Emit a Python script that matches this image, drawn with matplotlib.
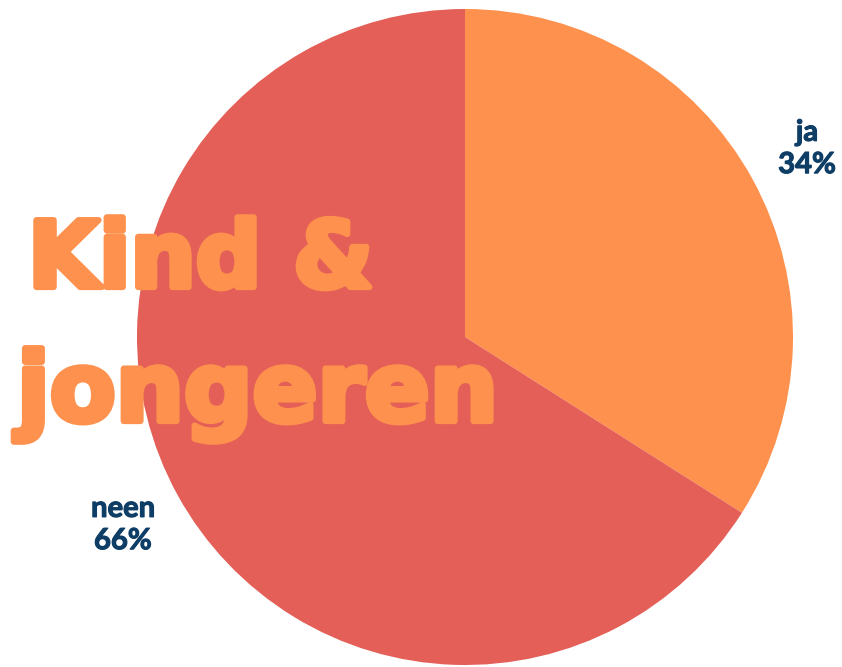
import matplotlib
matplotlib.use("Agg")
import matplotlib.pyplot as plt
import matplotlib.patheffects as pe

CATEGORIES = ['ja', 'neen']
SHARES = [34, 66]
COLORS = ['#FE914D', '#E45F57']
TITLE_LINES = ['Kind &', 'jongeren']


def main():
    fig = plt.figure(figsize=(8.42, 6.67), dpi=100)
    ax = fig.add_axes([0, 0, 1, 1])

    labels = [f"{c}\n{v}%" for c, v in zip(CATEGORIES, SHARES)]
    wedges, texts = ax.pie(SHARES, labels=labels, colors=COLORS, startangle=90,
                           counterclock=False, center=(465, 330), radius=328,
                           labeldistance=1.19, frame=True,
                           textprops=dict(color='#0E3D66', fontsize=21,
                                          fontweight='bold', family='Lato',
                                          linespacing=1.3))
    for t in texts:
        t.set_ha('center')
        t.set_va('center')
        t.set_path_effects([pe.withStroke(linewidth=0.8, foreground='#0E3D66')])
    ax.set_xlim(0, 842)
    ax.set_ylim(0, 667)
    ax.set_aspect('equal')
    ax.axis('off')

    # heavy title, fattened with a stroke of the same colour
    heavy = [pe.withStroke(linewidth=4.5, foreground='#FE914D')]
    fig.text(28 / 842, 1 - 287 / 667, TITLE_LINES[0], color='#FE914D',
             fontsize=66, fontweight='bold', family='DejaVu Sans',
             va='baseline', path_effects=heavy)
    fig.text(17 / 842, 1 - 421 / 667, TITLE_LINES[1], color='#FE914D',
             fontsize=69, fontweight='bold', family='DejaVu Sans',
             va='baseline', path_effects=heavy)

    fig.savefig('out.png', dpi=100)


if __name__ == '__main__':
    main()
